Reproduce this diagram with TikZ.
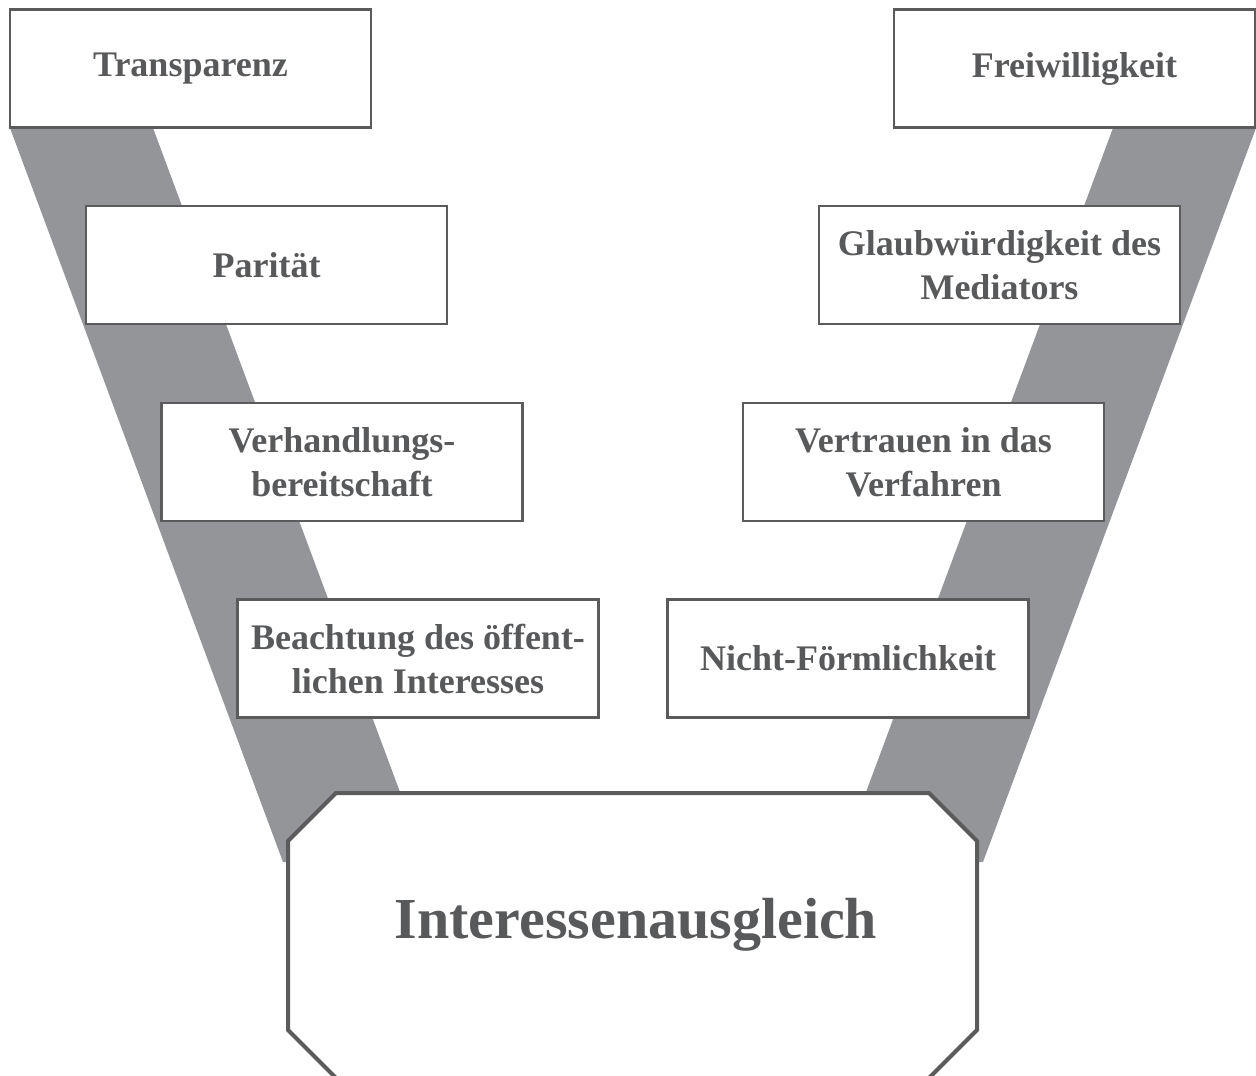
\documentclass[tikz,border=0pt]{standalone}
\usepackage{fontspec}
\setmainfont{Liberation Serif}
\definecolor{band}{HTML}{939598}
\definecolor{edge}{HTML}{5B5B5B}
\definecolor{txt}{HTML}{58595B}
\begin{document}
\begin{tikzpicture}[x=1pt,y=-1pt,
  box/.style={draw=edge,line width=2.5pt,fill=white,minimum width=361pt,minimum height=118pt,
    align=center,inner sep=0pt,text=txt,
    font=\bfseries\fontsize{36}{44}\selectfont}]
\useasboundingbox (0,0) rectangle (1256,1076);
% bands
\fill[band] (10,128) -- (153,128) -- (426,862) -- (283,862) -- cycle;
\fill[band] (1113,128) -- (1256,128) -- (983,862) -- (840,862) -- cycle;
% left boxes
\node[box] (t) at (190.5,68.5) {Transparenz};
\node[box] (p) at (266.5,265) {Parität};
\node[box] (v) at (342,462) {Verhandlungs-\\bereitschaft};
\node[box] (b) at (418,658.5) {Beachtung des öffent-\\lichen Interesses};
% right boxes
\node[box] (f) at (1074.5,68.5) {Freiwilligkeit};
\node[box] (g) at (999.5,265) {Glaubwürdigkeit des\\Mediators};
\node[box] (vt) at (923.5,462) {Vertrauen in das\\Verfahren};
\node[box] (n) at (848,658.5) {Nicht-Förmlichkeit};
% octagon
\draw[draw=edge,line width=4pt,fill=white,line join=miter]
  (336,793) -- (929,793) -- (977,841) -- (977,1030) -- (929,1078)
  -- (336,1078) -- (288,1030) -- (288,841) -- cycle;
\node[text=txt,font=\bfseries\fontsize{58}{70}\selectfont] (i) at (636,925) {Interessenausgleich};
\end{tikzpicture}
\end{document}
